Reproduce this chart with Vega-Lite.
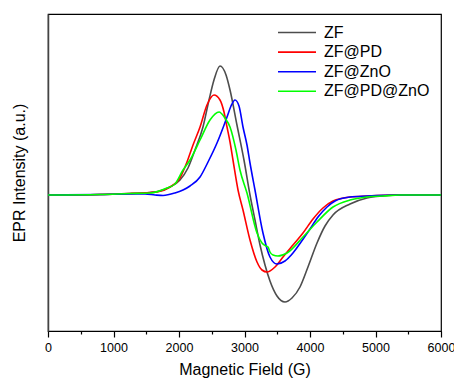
{
  "$schema": "https://vega.github.io/schema/vega-lite/v6.json",
  "width": 393,
  "height": 317,
  "autosize": "none",
  "padding": {"left": 48, "top": 14, "right": 13, "bottom": 48},
  "background": "white",
  "config": {
    "font": "Liberation Sans",
    "view": {"stroke": "#000", "strokeWidth": 1.2}
  },
  "data": {"values": [
    {"s":"ZF","g":0,"v":0},{"s":"ZF","g":794,"v":0.5},{"s":"ZF","g":1252,"v":1.5},{"s":"ZF","g":1557,"v":2.5},{"s":"ZF","g":1710,"v":4},{"s":"ZF","g":1863,"v":8},{"s":"ZF","g":2015,"v":15},{"s":"ZF","g":2137,"v":27},{"s":"ZF","g":2244,"v":45},{"s":"ZF","g":2366,"v":68},{"s":"ZF","g":2458,"v":95},{"s":"ZF","g":2534,"v":115},{"s":"ZF","g":2626,"v":129},{"s":"ZF","g":2718,"v":120},{"s":"ZF","g":2779,"v":105},{"s":"ZF","g":2885,"v":70},{"s":"ZF","g":2992,"v":35},{"s":"ZF","g":3084,"v":0},{"s":"ZF","g":3160,"v":-25},{"s":"ZF","g":3237,"v":-50},{"s":"ZF","g":3313,"v":-70},{"s":"ZF","g":3389,"v":-86},{"s":"ZF","g":3496,"v":-101},{"s":"ZF","g":3618,"v":-107},{"s":"ZF","g":3725,"v":-103},{"s":"ZF","g":3847,"v":-92},{"s":"ZF","g":3969,"v":-72},{"s":"ZF","g":4107,"v":-48},{"s":"ZF","g":4229,"v":-31},{"s":"ZF","g":4351,"v":-20},{"s":"ZF","g":4611,"v":-9},{"s":"ZF","g":4870,"v":-3},{"s":"ZF","g":5115,"v":-1},{"s":"ZF","g":5374,"v":0},{"s":"ZF","g":6000,"v":0},
    {"s":"ZF@PD","g":0,"v":0},{"s":"ZF@PD","g":794,"v":0.5},{"s":"ZF@PD","g":1252,"v":1.5},{"s":"ZF@PD","g":1557,"v":2.5},{"s":"ZF@PD","g":1664,"v":3},{"s":"ZF@PD","g":1863,"v":8},{"s":"ZF@PD","g":2015,"v":17},{"s":"ZF@PD","g":2122,"v":33},{"s":"ZF@PD","g":2214,"v":50},{"s":"ZF@PD","g":2321,"v":68},{"s":"ZF@PD","g":2427,"v":90},{"s":"ZF@PD","g":2534,"v":100},{"s":"ZF@PD","g":2626,"v":95},{"s":"ZF@PD","g":2687,"v":83},{"s":"ZF@PD","g":2733,"v":68},{"s":"ZF@PD","g":2779,"v":53},{"s":"ZF@PD","g":2824,"v":35},{"s":"ZF@PD","g":2901,"v":5},{"s":"ZF@PD","g":2977,"v":-15},{"s":"ZF@PD","g":3084,"v":-45},{"s":"ZF@PD","g":3191,"v":-67},{"s":"ZF@PD","g":3267,"v":-75},{"s":"ZF@PD","g":3344,"v":-77},{"s":"ZF@PD","g":3466,"v":-72},{"s":"ZF@PD","g":3588,"v":-62},{"s":"ZF@PD","g":3740,"v":-50},{"s":"ZF@PD","g":3893,"v":-38},{"s":"ZF@PD","g":4046,"v":-24},{"s":"ZF@PD","g":4198,"v":-13},{"s":"ZF@PD","g":4351,"v":-6},{"s":"ZF@PD","g":4611,"v":-2},{"s":"ZF@PD","g":4870,"v":-1},{"s":"ZF@PD","g":5374,"v":0},{"s":"ZF@PD","g":6000,"v":0},
    {"s":"ZF@ZnO","g":0,"v":0},{"s":"ZF@ZnO","g":794,"v":0.5},{"s":"ZF@ZnO","g":1252,"v":1},{"s":"ZF@ZnO","g":1481,"v":1},{"s":"ZF@ZnO","g":1634,"v":0},{"s":"ZF@ZnO","g":1756,"v":-0.5},{"s":"ZF@ZnO","g":1939,"v":2},{"s":"ZF@ZnO","g":2061,"v":5},{"s":"ZF@ZnO","g":2168,"v":9},{"s":"ZF@ZnO","g":2321,"v":18},{"s":"ZF@ZnO","g":2443,"v":33},{"s":"ZF@ZnO","g":2580,"v":52},{"s":"ZF@ZnO","g":2733,"v":78},{"s":"ZF@ZnO","g":2794,"v":89},{"s":"ZF@ZnO","g":2855,"v":95},{"s":"ZF@ZnO","g":2916,"v":89},{"s":"ZF@ZnO","g":2977,"v":68},{"s":"ZF@ZnO","g":3038,"v":50},{"s":"ZF@ZnO","g":3084,"v":32},{"s":"ZF@ZnO","g":3160,"v":5},{"s":"ZF@ZnO","g":3282,"v":-38},{"s":"ZF@ZnO","g":3389,"v":-62},{"s":"ZF@ZnO","g":3496,"v":-69},{"s":"ZF@ZnO","g":3618,"v":-66},{"s":"ZF@ZnO","g":3740,"v":-58},{"s":"ZF@ZnO","g":3863,"v":-47},{"s":"ZF@ZnO","g":4000,"v":-34},{"s":"ZF@ZnO","g":4122,"v":-22},{"s":"ZF@ZnO","g":4260,"v":-12},{"s":"ZF@ZnO","g":4382,"v":-6},{"s":"ZF@ZnO","g":4611,"v":-2},{"s":"ZF@ZnO","g":4870,"v":-1},{"s":"ZF@ZnO","g":5374,"v":0},{"s":"ZF@ZnO","g":6000,"v":0},
    {"s":"ZF@PD@ZnO","g":0,"v":0},{"s":"ZF@PD@ZnO","g":794,"v":0.5},{"s":"ZF@PD@ZnO","g":1252,"v":1.5},{"s":"ZF@PD@ZnO","g":1557,"v":2},{"s":"ZF@PD@ZnO","g":1817,"v":7},{"s":"ZF@PD@ZnO","g":1939,"v":11},{"s":"ZF@PD@ZnO","g":2061,"v":25},{"s":"ZF@PD@ZnO","g":2168,"v":35},{"s":"ZF@PD@ZnO","g":2321,"v":55},{"s":"ZF@PD@ZnO","g":2473,"v":75},{"s":"ZF@PD@ZnO","g":2611,"v":83},{"s":"ZF@PD@ZnO","g":2702,"v":77},{"s":"ZF@PD@ZnO","g":2779,"v":68},{"s":"ZF@PD@ZnO","g":2870,"v":45},{"s":"ZF@PD@ZnO","g":2931,"v":25},{"s":"ZF@PD@ZnO","g":3038,"v":2},{"s":"ZF@PD@ZnO","g":3191,"v":-38},{"s":"ZF@PD@ZnO","g":3267,"v":-48},{"s":"ZF@PD@ZnO","g":3328,"v":-51},{"s":"ZF@PD@ZnO","g":3359,"v":-52},{"s":"ZF@PD@ZnO","g":3389,"v":-57},{"s":"ZF@PD@ZnO","g":3435,"v":-60},{"s":"ZF@PD@ZnO","g":3511,"v":-61},{"s":"ZF@PD@ZnO","g":3649,"v":-58},{"s":"ZF@PD@ZnO","g":3893,"v":-42},{"s":"ZF@PD@ZnO","g":4107,"v":-27},{"s":"ZF@PD@ZnO","g":4351,"v":-12},{"s":"ZF@PD@ZnO","g":4611,"v":-5},{"s":"ZF@PD@ZnO","g":4870,"v":-2},{"s":"ZF@PD@ZnO","g":5115,"v":-1},{"s":"ZF@PD@ZnO","g":5374,"v":0},{"s":"ZF@PD@ZnO","g":6000,"v":0}
  ]},
  "mark": {"type": "line", "strokeWidth": 1.6, "interpolate": "monotone"},
  "encoding": {
    "x": {
      "field": "g", "type": "quantitative",
      "scale": {"domain": [0, 6000], "nice": false},
      "axis": {
        "title": "Magnetic Field  (G)",
        "titleFontSize": 16, "titleFontWeight": "normal", "titleColor": "#000", "titlePadding": 8,
        "values": [0,500,1000,1500,2000,2500,3000,3500,4000,4500,5000,5500,6000],
        "labelExpr": "datum.value % 1000 === 0 ? format(datum.value, 'd') : ''",
        "labelFontSize": 12.5, "labelColor": "#000", "labelPadding": 4, "labelFlush": false, "labelOverlap": false,
        "domainColor": "#000", "domainWidth": 1.2,
        "tickColor": "#000", "tickWidth": 1.2,
        "tickSize": {"condition": {"test": "datum.value % 1000 === 0", "value": 6}, "value": 3},
        "grid": false
      }
    },
    "y": {
      "field": "v", "type": "quantitative",
      "scale": {"domain": [-136, 181], "nice": false, "zero": false},
      "axis": {
        "title": "EPR Intensity  (a.u.)",
        "titleFontSize": 16, "titleFontWeight": "normal", "titleColor": "#000", "titlePadding": 21,
        "labels": false, "ticks": false, "grid": false,
        "domainColor": "#444", "domainWidth": 1.5
      }
    },
    "color": {
      "field": "s", "type": "nominal",
      "scale": {"domain": ["ZF", "ZF@PD", "ZF@ZnO", "ZF@PD@ZnO"], "range": ["#4d4d4d", "#ff0000", "#0000ff", "#00ff00"]},
      "legend": {
        "title": null, "orient": "none", "legendX": 241, "legendY": 10.5,
        "symbolType": "M-3.8,0H3.8", "symbolSize": 100, "symbolStrokeWidth": 1.6,
        "labelFontSize": 16, "labelColor": "#000", "labelOffset": 19, "rowPadding": 3.6, "padding": 0
      }
    }
  }
}
